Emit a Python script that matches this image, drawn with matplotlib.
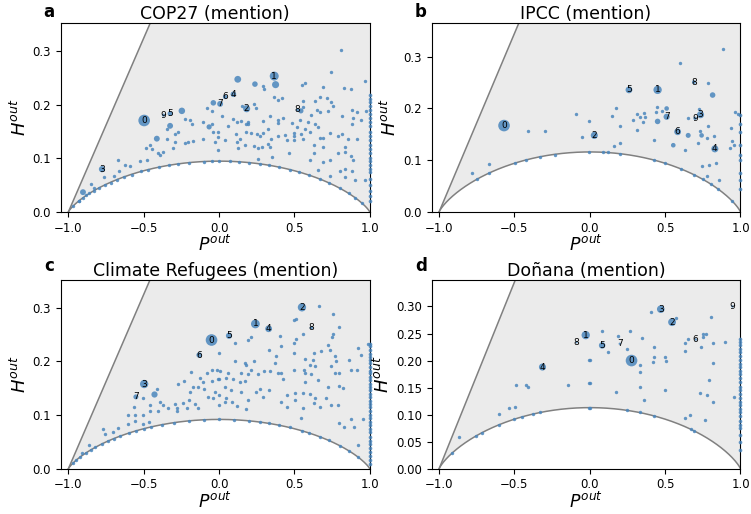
import numpy as np
import matplotlib.pyplot as plt
from matplotlib.ticker import MultipleLocator

# Panel settings
titles = ["COP27 (mention)", "IPCC (mention)", "Climate Refugees (mention)", "Doñana (mention)"]
letters = ["a", "b", "c", "d"]
rim_peak = [0.095, 0.116, 0.092, 0.113]   # height of lower bound at P=0
edge_slope = [0.65, 0.69, 0.65, 0.69]     # slope of upper bound
y_top = [0.353, 0.365, 0.352, 0.349]
y_step = [0.1, 0.1, 0.1, 0.05]

# ---------------- panel a: COP27 ----------------
a_lab_p = [-0.497, 0.366, 0.183, -0.777, 0.095, -0.325, 0.040, 0.007, 0.520, -0.369]
a_lab_h = [0.171, 0.254, 0.193, 0.080, 0.220, 0.184, 0.215, 0.202, 0.191, 0.181]
a_lab_s = [70, 42, 26, 20, 16, 13, 10, 18, 6, 5]
a_mid_p = [0.375, 0.124, 0.238, -0.247, -0.325, -0.413, -0.903, -0.038, -0.066, 0.543]
a_mid_h = [0.238, 0.248, 0.239, 0.189, 0.161, 0.137, 0.037, 0.204, 0.159, 0.189]
a_mid_s = [26, 24, 16, 22, 18, 18, 18, 16, 14, 14]
a_dot_p = [-0.673, -0.623, -0.589, -0.523, -0.475, -0.483, -0.457, -0.446, -0.402, -0.369,
           -0.347, -0.291, -0.291, -0.347, -0.270, -0.225, -0.192, -0.181, -0.203, -0.170,
           -0.104, -0.104, -0.048, -0.038, -0.026, -0.082, -0.048, -0.762, -0.700, -0.667,
           -0.850, -0.832, -0.881, -0.932, -0.303, -0.225, -0.391,
           0.808, 0.746, 0.552, 0.570, 0.691, 0.830, 0.874, 0.971, 0.289, 0.300,
           0.364, 0.389, 0.419, 0.234, 0.243, 0.150, 0.558, 0.558, 0.636, 0.669,
           0.713, 0.746, 0.757, 0.607, 0.647, 0.669, 0.724, 0.813, 0.883, 0.912,
           0.978, 0.393, 0.393, 0.426, 0.338, 0.293, 0.194, 0.194, 0.177, 0.146,
           0.117, 0.095, 0.062, 0.018, 0.536, 0.591, 0.636, 0.658, 0.570, 0.514,
           0.481, 0.543, 0.603, 0.669, 0.691, 0.735, 0.790, 0.819, 0.856, 0.918,
           0.879, 0.889, 0.945, -0.005, -0.005, 0.040, 0.111, 0.139, 0.117, 0.177,
           0.212, 0.250, 0.272, 0.293, 0.327, 0.344, 0.327, 0.393, 0.437, 0.448,
           0.499, 0.499, 0.499, -0.005, 0.128, 0.172, 0.234, 0.260, 0.283, 0.338,
           0.353, 0.260, 0.464, 0.558, 0.631, 0.631, 0.691, 0.603, 0.691, 0.735,
           0.790, 0.834, 0.834, 0.874, 0.889, 0.801, 0.834, 0.879, 0.735, 0.834,
           0.901, 0.967, 0.658]
a_dot_h = [0.098, 0.087, 0.086, 0.095, 0.098, 0.119, 0.125, 0.118, 0.110, 0.112,
           0.136, 0.131, 0.146, 0.156, 0.150, 0.174, 0.171, 0.165, 0.131, 0.133,
           0.137, 0.168, 0.165, 0.150, 0.131, 0.195, 0.189, 0.065, 0.068, 0.077,
           0.053, 0.044, 0.032, 0.020, 0.119, 0.128, 0.107,
           0.303, 0.262, 0.238, 0.241, 0.234, 0.232, 0.230, 0.245, 0.235, 0.230,
           0.214, 0.209, 0.213, 0.202, 0.195, 0.198, 0.208, 0.196, 0.208, 0.214,
           0.213, 0.206, 0.199, 0.181, 0.190, 0.186, 0.188, 0.180, 0.190, 0.186,
           0.189, 0.172, 0.167, 0.175, 0.180, 0.170, 0.169, 0.165, 0.165, 0.170,
           0.168, 0.174, 0.161, 0.180, 0.172, 0.168, 0.165, 0.159, 0.156, 0.159,
           0.166, 0.146, 0.150, 0.139, 0.139, 0.148, 0.142, 0.145, 0.136, 0.137,
           0.165, 0.175, 0.172, 0.150, 0.141, 0.134, 0.146, 0.136, 0.131, 0.150,
           0.148, 0.146, 0.142, 0.148, 0.156, 0.136, 0.127, 0.142, 0.143, 0.134,
           0.148, 0.142, 0.134, 0.116, 0.119, 0.125, 0.124, 0.119, 0.121, 0.122,
           0.103, 0.099, 0.110, 0.136, 0.110, 0.125, 0.121, 0.098, 0.094, 0.097,
           0.110, 0.122, 0.113, 0.105, 0.098, 0.077, 0.080, 0.077, 0.068, 0.065,
           0.059, 0.059, 0.078]
a_rim_p = [-0.97, -0.93, -0.9, -0.86, -0.83, -0.8, -0.76, -0.72, -0.68, -0.63,
           -0.58, -0.52, -0.47, -0.4, -0.33, -0.27, -0.2, -0.1, -0.05, 0.0,
           0.07, 0.13, 0.2, 0.27, 0.33, 0.4, 0.47, 0.53, 0.6, 0.67,
           0.73, 0.8, 0.86, 0.9, 0.95]
a_rim_h = [0.011, 0.021, 0.027, 0.035, 0.040, 0.045, 0.050, 0.055, 0.060, 0.066,
           0.070, 0.076, 0.079, 0.084, 0.087, 0.090, 0.092, 0.094, 0.095, 0.095,
           0.095, 0.094, 0.092, 0.090, 0.087, 0.084, 0.079, 0.075, 0.069, 0.061,
           0.054, 0.045, 0.035, 0.027, 0.016]
a_edge_h = [0.218, 0.212, 0.205, 0.198, 0.190, 0.183, 0.176, 0.168, 0.160, 0.150,
            0.142, 0.135, 0.125, 0.118, 0.110, 0.100, 0.095, 0.088, 0.080, 0.075,
            0.062, 0.050, 0.040, 0.030, 0.020]

# ---------------- panel b: IPCC ----------------
b_lab_p = [-0.569, 0.450, 0.030, 0.735, 0.830, 0.260, 0.583, 0.510, 0.691, 0.698]
b_lab_h = [0.167, 0.236, 0.148, 0.188, 0.122, 0.236, 0.155, 0.184, 0.251, 0.181]
b_lab_s = [70, 36, 26, 26, 26, 24, 24, 20, 8, 6]
b_mid_p = [0.815, 0.450, 0.653, 0.554, 0.742, 0.510]
b_mid_h = [0.226, 0.175, 0.148, 0.129, 0.148, 0.200]
b_mid_s = [16, 16, 13, 11, 11, 11]
b_dot_p = [-0.412, -0.299, -0.092, -0.052, -0.003, -0.783, -0.666, 0.598, 0.881, 0.782,
           0.481, 0.441, 0.446, 0.724, 0.653, 0.731, 0.775, 0.826, 0.716, 0.786,
           0.631, 0.428, 0.746, 0.790, 0.835, 0.857, 0.941, 0.930, 0.963, 0.934,
           0.985, 0.958, 0.311, 0.362, 0.288, 0.355, 0.333, 0.366, 0.176, 0.145,
           0.200, 0.311, 0.163, 0.200, 0.780]
b_dot_h = [0.156, 0.156, 0.189, 0.144, 0.175, 0.076, 0.093, 0.288, 0.315, 0.249,
           0.196, 0.194, 0.203, 0.199, 0.181, 0.157, 0.142, 0.146, 0.134, 0.166,
           0.119, 0.140, 0.089, 0.090, 0.095, 0.061, 0.137, 0.124, 0.194, 0.163,
           0.189, 0.129, 0.190, 0.191, 0.178, 0.173, 0.184, 0.183, 0.201, 0.186,
           0.166, 0.158, 0.128, 0.133, 0.070]
b_rim_p = [-0.75, -0.666, -0.496, -0.425, -0.33, -0.231, -0.003, 0.09, 0.123, 0.2,
           0.428, 0.499, 0.605, 0.691, 0.753, 0.804, 0.853, 0.941]
b_rim_h = [0.064, 0.076, 0.095, 0.101, 0.106, 0.111, 0.116, 0.115, 0.115, 0.113,
           0.100, 0.094, 0.083, 0.072, 0.063, 0.054, 0.044, 0.022]
b_edge_h = [0.188, 0.170, 0.155, 0.130, 0.111, 0.101, 0.076, 0.061, 0.045]

# ---------------- panel c: Climate Refugees ----------------
c_lab_p = [-0.050, 0.241, 0.550, -0.497, 0.329, 0.066, -0.132, -0.552, 0.612]
c_lab_h = [0.240, 0.270, 0.301, 0.158, 0.261, 0.248, 0.212, 0.134, 0.263]
c_lab_s = [70, 40, 36, 36, 24, 20, 16, 13, 6]
c_mid_p = [-0.430]
c_mid_h = [0.139]
c_mid_s = [20]
c_dot_p = [-0.411, -0.503, -0.565, -0.603, -0.558, -0.603, -0.558, -0.507, -0.459, -0.393,
           -0.371, -0.338, -0.293, -0.282, -0.278, -0.238, -0.216, -0.201, -0.161, -0.194,
           -0.143, -0.128, -0.083, -0.050, -0.017, -0.106, -0.050, -0.007, -0.183, -0.272,
           -0.232, -0.172, -0.099, -0.073, -0.040, -0.028, -0.139, -0.768, -0.757, -0.702,
           -0.669, -0.861, -0.911, -0.459, -0.404, -0.507, -0.464,
           0.660, 0.755, 0.497, 0.513, 0.793, 0.755, 0.748, 0.556, 0.513, 0.402,
           0.409, 0.329, 0.210, 0.192, 0.104, -0.002,
           0.925, 0.943, 0.991, 0.859, 0.877, 0.917, 0.799, 0.793, 0.821, 0.766,
           0.744, 0.722, 0.733, 0.766, 0.777, 0.678, 0.629, 0.623, 0.634, 0.568,
           0.563, 0.601, 0.572, 0.568, 0.612, 0.656, 0.722, 0.497, 0.497, 0.497,
           0.413, 0.424, 0.391, 0.374, 0.375, 0.336, 0.298, 0.258, 0.215, 0.232,
           0.175, 0.181, 0.148, 0.104, 0.060, 0.049, 0.093, 0.137, 0.175, 0.192,
           0.005, -0.002, 0.038, 0.082, 0.148, 0.248, 0.270, 0.329, 0.453, 0.501,
           0.556, 0.601, 0.711, 0.634, 0.501, 0.413, 0.453, 0.556, 0.629, 0.667,
           0.744, 0.788, 0.799, 0.832, 0.877, 0.894, 0.925, 0.954, 0.546, 0.181,
           0.122, 0.086, 0.038, -0.002, -0.002, 0.049, 0.192, 0.291]
c_dot_h = [0.148, 0.131, 0.116, 0.100, 0.101, 0.084, 0.089, 0.100, 0.118, 0.125,
           0.118, 0.114, 0.120, 0.114, 0.107, 0.122, 0.114, 0.128, 0.120, 0.143,
           0.152, 0.170, 0.179, 0.184, 0.185, 0.161, 0.164, 0.167, 0.181, 0.158,
           0.164, 0.152, 0.148, 0.134, 0.131, 0.143, 0.113, 0.074, 0.065, 0.068,
           0.076, 0.045, 0.030, 0.108, 0.107, 0.083, 0.087,
           0.303, 0.289, 0.278, 0.279, 0.264, 0.252, 0.246, 0.252, 0.241, 0.247,
           0.229, 0.222, 0.245, 0.240, 0.235, 0.216,
           0.225, 0.213, 0.232, 0.202, 0.184, 0.184, 0.179, 0.155, 0.150, 0.179,
           0.191, 0.231, 0.222, 0.210, 0.201, 0.220, 0.216, 0.202, 0.191, 0.205,
           0.185, 0.194, 0.178, 0.161, 0.176, 0.165, 0.152, 0.234, 0.216, 0.185,
           0.179, 0.168, 0.179, 0.197, 0.210, 0.182, 0.182, 0.176, 0.185, 0.201,
           0.197, 0.193, 0.179, 0.201, 0.179, 0.170, 0.168, 0.161, 0.164, 0.176,
           0.182, 0.167, 0.152, 0.146, 0.144, 0.144, 0.148, 0.146, 0.138, 0.142,
           0.142, 0.140, 0.132, 0.131, 0.128, 0.124, 0.116, 0.114, 0.122, 0.116,
           0.119, 0.118, 0.085, 0.077, 0.092, 0.077, 0.045, 0.092, 0.095, 0.112,
           0.117, 0.124, 0.125, 0.137, 0.119, 0.131, 0.128, 0.134]
c_rim_p = [-0.97, -0.95, -0.92, -0.88, -0.85, -0.82, -0.78, -0.74, -0.7, -0.66,
           -0.6, -0.55, -0.5, -0.45, -0.38, -0.3, -0.2, -0.1, 0.0, 0.1,
           0.2, 0.27, 0.33, 0.4, 0.47, 0.55, 0.6, 0.67, 0.73, 0.8,
           0.86, 0.92]
c_rim_h = [0.010, 0.016, 0.022, 0.030, 0.035, 0.040, 0.046, 0.051, 0.056, 0.061,
           0.066, 0.071, 0.075, 0.078, 0.082, 0.086, 0.089, 0.091, 0.092, 0.091,
           0.089, 0.087, 0.085, 0.081, 0.077, 0.071, 0.066, 0.060, 0.053, 0.043,
           0.034, 0.022]
c_edge_h = [0.233, 0.228, 0.221, 0.214, 0.209, 0.203, 0.197, 0.190, 0.183, 0.178,
            0.171, 0.166, 0.158, 0.152, 0.147, 0.139, 0.133, 0.127, 0.121, 0.115,
            0.108, 0.101, 0.094, 0.087, 0.081, 0.074, 0.068, 0.059, 0.052, 0.046,
            0.038, 0.031, 0.024, 0.017, 0.009]

# ---------------- panel d: Doñana ----------------
d_lab_p = [0.277, -0.027, 0.546, 0.471, -0.314, 0.082, 0.703, 0.199, -0.088, 0.947]
d_lab_h = [0.200, 0.247, 0.271, 0.295, 0.188, 0.228, 0.239, 0.231, 0.234, 0.300]
d_lab_s = [70, 36, 32, 30, 26, 22, 3, 3, 3, 3]
d_mid_p = []
d_mid_h = []
d_mid_s = []
d_dot_p = [-0.491, -0.425, -0.413, -0.144, -0.005, -0.005, -0.602, -0.539, -0.498, -0.867,
           0.575, 0.403, 0.803, 0.082, 0.184, 0.267, 0.347, 0.244, 0.121, 0.427,
           0.427, 0.420, 0.498, 0.509, 0.332, 0.332, 0.000, 0.000, 0.332, 0.177,
           0.360, 0.498, 0.635, 0.635, 0.652, 0.737, 0.752, 0.768, 0.752, 0.818,
           0.900, 0.818, 0.790, 0.732, 0.778, 0.818, 0.956, 0.635, 0.666, 0.763]
d_dot_h = [0.154, 0.155, 0.151, 0.155, 0.201, 0.159, 0.102, 0.112, 0.114, 0.058,
           0.279, 0.289, 0.280, 0.255, 0.246, 0.254, 0.242, 0.222, 0.216, 0.225,
           0.207, 0.197, 0.206, 0.199, 0.192, 0.179, 0.201, 0.158, 0.152, 0.142,
           0.128, 0.146, 0.232, 0.217, 0.239, 0.225, 0.243, 0.250, 0.250, 0.232,
           0.235, 0.195, 0.164, 0.140, 0.137, 0.124, 0.133, 0.094, 0.100, 0.090]
d_rim_p = [-0.911, -0.752, -0.712, -0.602, -0.502, -0.453, -0.376, -0.332, -0.005, 0.0,
           0.250, 0.332, 0.427, 0.670, 0.692]
d_rim_h = [0.030, 0.061, 0.067, 0.081, 0.092, 0.096, 0.101, 0.104, 0.113, 0.113,
           0.108, 0.104, 0.098, 0.073, 0.070]
d_edge_h = [0.240, 0.235, 0.228, 0.222, 0.216, 0.209, 0.201, 0.194, 0.188, 0.181,
            0.175, 0.168, 0.160, 0.152, 0.145, 0.139, 0.131, 0.124, 0.118, 0.111,
            0.104, 0.098, 0.089, 0.080, 0.075, 0.063, 0.050, 0.035]

panels = [
    (a_lab_p, a_lab_h, a_lab_s, a_mid_p, a_mid_h, a_mid_s, a_dot_p, a_dot_h, a_rim_p, a_rim_h, a_edge_h),
    (b_lab_p, b_lab_h, b_lab_s, b_mid_p, b_mid_h, b_mid_s, b_dot_p, b_dot_h, b_rim_p, b_rim_h, b_edge_h),
    (c_lab_p, c_lab_h, c_lab_s, c_mid_p, c_mid_h, c_mid_s, c_dot_p, c_dot_h, c_rim_p, c_rim_h, c_edge_h),
    (d_lab_p, d_lab_h, d_lab_s, d_mid_p, d_mid_h, d_mid_s, d_dot_p, d_dot_h, d_rim_p, d_rim_h, d_edge_h),
]

col = "#4a86bd"
fig, axes = plt.subplots(2, 2, figsize=(7.51, 5.14), dpi=100)
fig.subplots_adjust(left=0.081, right=0.986, bottom=0.088, top=0.955, wspace=0.2, hspace=0.36)

pp = np.linspace(-1, 1, 600)
q = np.clip((1 + pp) / 2, 1e-12, 1 - 1e-12)
binent = -(q * np.log2(q) + (1 - q) * np.log2(1 - q))

for i, ax in enumerate(axes.flat):
    lab_p, lab_h, lab_s, mid_p, mid_h, mid_s, dot_p, dot_h, rim_p, rim_h, edge_h = panels[i]

    lower = rim_peak[i] * binent
    upper = edge_slope[i] * (1 + pp)
    ax.fill_between(pp, lower, upper, color="#ebebeb", lw=0, zorder=0)
    ax.plot(pp, lower, color="grey", lw=1.1, zorder=1)
    ax.plot(pp, upper, color="grey", lw=1.1, zorder=1)

    ax.scatter(dot_p, dot_h, s=6, color=col, alpha=0.85, lw=0, zorder=2)
    ax.scatter(rim_p, rim_h, s=6, color=col, alpha=0.85, lw=0, zorder=2)
    ax.scatter(np.ones(len(edge_h)), edge_h, s=7, color=col, alpha=0.85, lw=0,
               zorder=3, clip_on=False)
    ax.scatter(mid_p, mid_h, s=mid_s, color=col, alpha=0.85, lw=0, zorder=3)
    ax.scatter(lab_p, lab_h, s=lab_s, color=col, alpha=0.85, lw=0, zorder=3)
    for k, (x, y) in enumerate(zip(lab_p, lab_h)):
        ax.text(x, y, str(k), fontsize=6.5, ha="center", va="center", zorder=4)

    ax.set_xlim(-1.05, 1.0)
    ax.set_ylim(0, y_top[i])
    ax.xaxis.set_major_locator(MultipleLocator(0.5))
    ax.yaxis.set_major_locator(MultipleLocator(y_step[i]))
    ax.tick_params(labelsize=8.5)
    ax.set_title(titles[i], fontsize=12.5, pad=1.5)
    ax.set_xlabel("$P^{out}$", fontsize=12.5, labelpad=0.5)
    ax.set_ylabel("$H^{out}$", fontsize=13, labelpad=2)

letter_xy = [(49, 12), (421, 12), (49, 266), (421, 266)]
for (x, y), let in zip(letter_xy, letters):
    fig.text(x / 751, 1 - y / 514, let, fontsize=12, fontweight="bold", ha="center", va="center")

fig.savefig("out.png", dpi=100)
